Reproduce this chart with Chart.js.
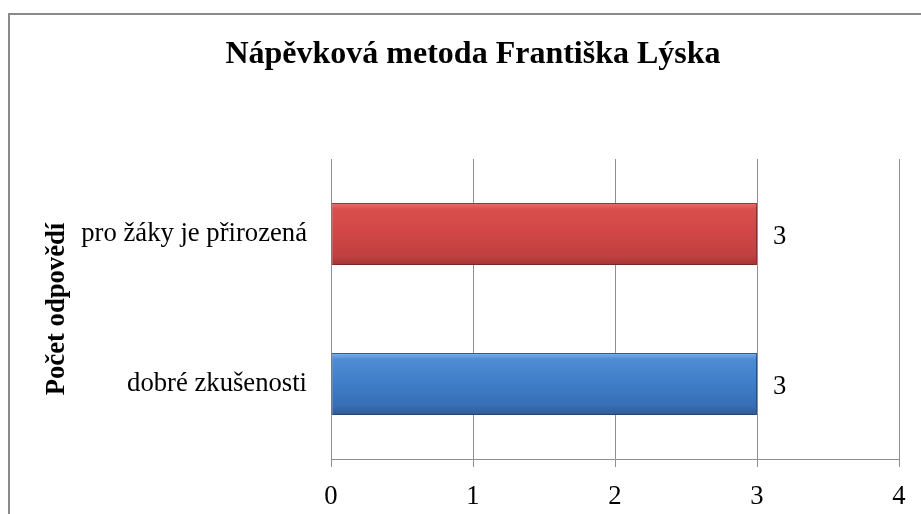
<!DOCTYPE html>
<html>
<head>
<meta charset="utf-8">
<script src="https://cdn.jsdelivr.net/npm/chart.js@4/dist/chart.umd.min.js"></script>
<style>
  html, body { margin: 0; padding: 0; background: #fff; }
  canvas { display: block; }
</style>
</head>
<body>
<canvas id="c" width="921" height="514"></canvas>
<script>
const chartTitle = 'Nápěvková metoda Františka Lýska';
const axisTitle = 'Počet odpovědí';
const categories = ['pro žáky je přirozená', 'dobré zkušenosti'];
const values = [3, 3];
const xMin = 0, xMax = 4, xStep = 1;

const gradStops = [
  ['#E77070', '#DA4E4E', '#D04646', '#C04040', '#A33434'],
  ['#80B2EC', '#4F8CD6', '#3F7DC8', '#386EB4', '#2E5B96']
];
const barBorders = ['#A83636', '#30609C'];
const serif = "'Liberation Serif', 'Times New Roman', serif";
const BAR_PCT = 0.413;

function barGradient(ctx) {
  const chart = ctx.chart;
  const i = ctx.dataIndex;
  const stops = gradStops[i % gradStops.length];
  const ys = chart.scales.y;
  const area = chart.chartArea;
  if (!ys || !area || ctx.type !== 'data') return stops[2];
  const yc = ys.getPixelForValue(i);
  const band = (area.bottom - area.top) / categories.length;
  const h = band * BAR_PCT / 2;
  const g = chart.ctx.createLinearGradient(0, yc - h, 0, yc + h);
  g.addColorStop(0, stops[0]);
  g.addColorStop(0.1, stops[1]);
  g.addColorStop(0.5, stops[2]);
  g.addColorStop(0.85, stops[3]);
  g.addColorStop(1, stops[4]);
  return g;
}

const frame = {
  id: 'frame',
  beforeDraw(chart) {
    const c = chart.ctx;
    c.save();
    c.fillStyle = '#fff';
    c.fillRect(0, 0, chart.width, chart.height);
    c.strokeStyle = '#8a8a8a';
    c.lineWidth = 2;
    c.strokeRect(9, 14, chart.width + 20, chart.height + 20);
    c.restore();
  }
};

const shadow = {
  id: 'shadow',
  beforeDatasetsDraw(chart) {
    const c = chart.ctx;
    c.save();
    c.shadowColor = 'rgba(0,0,0,0.35)';
    c.shadowBlur = 5;
    c.shadowOffsetX = 1;
    c.shadowOffsetY = 3;
  },
  afterDatasetsDraw(chart) {
    chart.ctx.restore();
    const c = chart.ctx;
    const meta = chart.getDatasetMeta(0);
    c.save();
    c.fillStyle = '#000';
    c.font = '26.67px ' + serif;
    c.textAlign = 'left';
    c.textBaseline = 'middle';
    meta.data.forEach((el, i) => {
      c.fillText(String(values[i]), el.x + 16, el.y + 3);
    });
    c.restore();
  }
};

new Chart(document.getElementById('c'), {
  type: 'bar',
  data: {
    labels: categories,
    datasets: [{
      data: values,
      backgroundColor: barGradient,
      borderColor: barBorders,
      borderWidth: 1,
      borderSkipped: false,
      barPercentage: BAR_PCT,
      categoryPercentage: 1
    }]
  },
  options: {
    indexAxis: 'y',
    responsive: false,
    animation: false,
    devicePixelRatio: 1,
    layout: { padding: { left: 47, right: 22, top: 0, bottom: 0 } },
    plugins: {
      legend: { display: false },
      tooltip: { enabled: false },
      title: {
        display: true,
        text: chartTitle,
        color: '#000',
        font: { family: serif, size: 32, weight: 'bold', lineHeight: 1.2 },
        padding: { top: 36, bottom: 84.6 }
      }
    },
    scales: {
      x: {
        min: xMin, max: xMax,
        ticks: { stepSize: xStep, color: '#000', font: { family: serif, size: 26.67 }, padding: 14 },
        grid: { display: true, color: '#8f8f8f', lineWidth: 1, drawTicks: true, tickLength: 8 },
        border: { display: true, color: '#8f8f8f', width: 1 },
        afterFit(scale) { scale.height = 55; }
      },
      y: {
        ticks: { color: '#000', font: { family: serif, size: 26.67 }, padding: 24 },
        grid: { display: false, drawTicks: false },
        border: { display: true, color: '#8f8f8f', width: 1 },
        title: {
          display: true, text: axisTitle, color: '#000',
          font: { family: serif, size: 26.67, weight: 'bold', lineHeight: 1.2 },
          padding: { top: -6, bottom: 0 }
        },
        afterFit(scale) { scale.width = 284; }
      }
    }
  },
  plugins: [frame, shadow]
});
</script>
</body>
</html>
